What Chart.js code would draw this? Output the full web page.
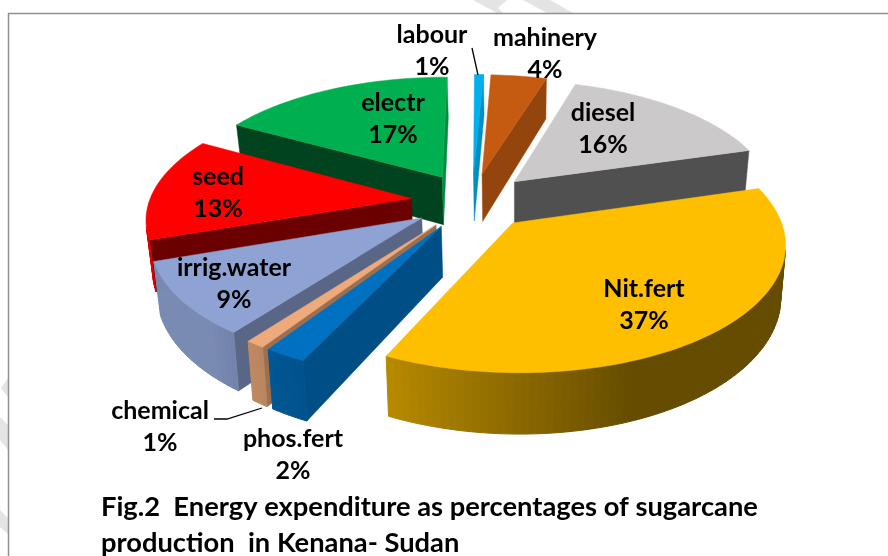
<!DOCTYPE html>
<html><head><meta charset="utf-8">
<style>html,body{margin:0;padding:0;background:#fff}#w{position:relative;width:888px;height:556px}</style>
<script src="https://cdn.jsdelivr.net/npm/chart.js@4"></script></head>
<body><div id="w"><canvas id="c" width="888" height="556"></canvas></div>
<script>
const categories = ["labour","mahinery","diesel","Nit.fert","phos.fert","chemical","irrig.water","seed","electr"];
const shares = [0.64,4,15.7,36.5,2.17,1,9.45,13.45,16.9];
const colors = ["#00b0f0","#c55a11","#cbc9c9","#fdbf00","#0070c0","#eeaa7a","#8ea2d3","#ff0000","#00b050"];
const explodePx = [51,51,51,51,51,51,51,51,51];
const labelPos = [[432,35],[545,38],[603,113],[644,289],[293,439],[160,411],[234,268],[218,177],[393,103]];
const paintOrder = [8,1,0,2,7,6,5,4,3];
const cam = {cx:472,cy:201,rx:262,ry:121,k:0.145,vx:517,conv:0.982,depth:49};
const titleLines = ["Fig.2  Energy expenditure as percentages of sugarcane","production  in Kenana- Sudan"];
const FONT = "Lato";
const marks = [[[473,0],[507,0],[498,8],[503,13],[497,13]],[[523,0],[550,0],[573,13],[547,13]],
 [[8,378],[1,388],[4,392],[8,397]],[[0,417],[8,425],[8,450],[0,440]],[[0,510],[8,518],[8,534],[0,527]]];

function project(u,v){const s=1/(1-cam.k*v);return {x:cam.cx+cam.rx*u*s,y:cam.cy+cam.ry*v*s,s};}
function lower(p){return {x:cam.vx+(p.x-cam.vx)*cam.conv,y:p.y+cam.depth*Math.pow(p.s,1.2)};}
function shade(hex,f){const n=parseInt(hex.slice(1),16);const c=[n>>16,(n>>8)&255,n&255].map(x=>Math.round(x*f));return `rgb(${c})`;}
function clamp(x,a,b){return Math.max(a,Math.min(b,x));}
function poly(ctx,pts,col,lw){ctx.beginPath();pts.forEach((p,i)=>i?ctx.lineTo(p.x,p.y):ctx.moveTo(p.x,p.y));ctx.closePath();ctx.fillStyle=col;ctx.strokeStyle=col;ctx.lineWidth=lw;ctx.fill();ctx.stroke();}
function area(q){let a=0;for(let i=0;i<q.length;i++){const p=q[i],n=q[(i+1)%q.length];a+=p.x*n.y-n.x*p.y;}return a;}
function wall(ctx,a,b,col,lw){const q=[a,b,lower(b),lower(a)];if(area(q)<0)poly(ctx,q,col,lw);}
const deg=a=>((a+Math.PI/2)*180/Math.PI+720)%360;
function cutShade(n){return clamp(.77-.0062*(n-104),.38,.8);}
function rimShade(t){return clamp(.40+.007*(t-159),.40,.85);}

const pie3d={id:'pie3d',
 beforeDraw(chart){const c=chart.ctx;c.save();c.fillStyle='#fff';c.fillRect(0,0,888,556);
  c.fillStyle='#e4e4e4';marks.forEach(m=>{c.beginPath();m.forEach((p,i)=>i?c.lineTo(p[0],p[1]):c.moveTo(p[0],p[1]));c.closePath();c.fill();});
  c.strokeStyle='#8f8f8f';c.lineWidth=1.5;c.beginPath();c.moveTo(8.5,556);c.lineTo(8.5,13.5);c.lineTo(888,13.5);c.stroke();c.restore();},
 beforeDatasetsDraw(chart){
  const ctx=chart.ctx,arcs=chart.getDatasetMeta(0).data;
  ctx.save();
  paintOrder.forEach(i=>{
   const arc=arcs[i],R=arc.outerRadius,mid=(arc.startAngle+arc.endAngle)/2,off=arc.options.offset/R;
   const ox=Math.cos(mid)*off,oy=Math.sin(mid)*off;
   const apex=project(ox,oy),n=Math.max(2,Math.ceil((arc.endAngle-arc.startAngle)/(Math.PI/180*1.5))),rim=[];
   for(let j=0;j<=n;j++){const a=arc.startAngle+(arc.endAngle-arc.startAngle)*j/n;rim.push(project(ox+Math.cos(a),oy+Math.sin(a)));}
   wall(ctx,apex,rim[0],shade(colors[i],cutShade(deg(arc.startAngle)-90)),.5);
   wall(ctx,rim[n],apex,shade(colors[i],cutShade(deg(arc.endAngle)+90)),.5);
   for(let j=0;j<n;j++){const t=deg(arc.startAngle+(arc.endAngle-arc.startAngle)*(j+.5)/n);wall(ctx,rim[j],rim[j+1],shade(colors[i],rimShade(t)),1);}
   poly(ctx,[apex,...rim],colors[i],.5);
  });
  ctx.restore();
  ctx.save();ctx.fillStyle='#000';ctx.textAlign='center';ctx.textBaseline='middle';ctx.font=`bold 25px ${FONT}`;
  categories.forEach((t,i)=>{const p=labelPos[i];ctx.fillText(t,p[0],p[1]);ctx.fillText(Math.round(shares[i])+'%',p[0],p[1]+32);});
  ctx.strokeStyle='#000';ctx.lineWidth=1.3;ctx.beginPath();ctx.moveTo(472,48);ctx.lineTo(478,75);ctx.moveTo(214,419);ctx.lineTo(227,419);ctx.lineTo(262,408);ctx.stroke();
  ctx.restore();
  return false;
 }};

new Chart(document.getElementById('c'),{type:'pie',
 data:{labels:categories,datasets:[{data:shares,backgroundColor:colors,offset:explodePx,borderWidth:0}]},
 plugins:[pie3d],
 options:{responsive:false,animation:false,rotation:0.3,
  layout:{padding:{left:101,bottom:0}},
  plugins:{legend:{display:false},tooltip:{enabled:false},
   title:{display:true,position:'bottom',align:'start',text:titleLines,color:'#000',padding:{top:0,bottom:-5},font:{family:FONT,weight:'bold',size:27.3,lineHeight:1.32}}}}});
</script></body></html>
